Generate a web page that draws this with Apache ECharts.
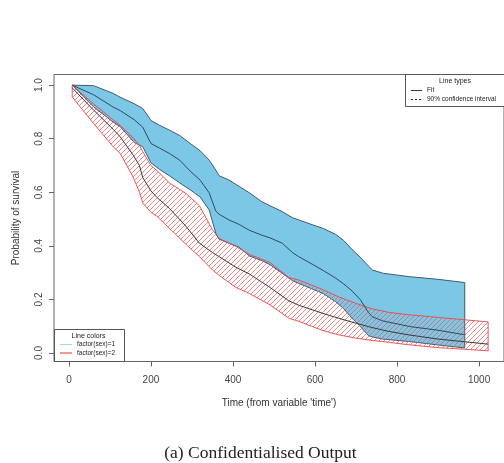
<!DOCTYPE html>
<html>
<head>
<meta charset="utf-8">
<script src="https://cdn.jsdelivr.net/npm/echarts@6/dist/echarts.min.js"></script>
</head>
<body style="margin:0;background:#fff">
<div id="main" style="width:504px;height:463px"></div>
<script>
// ticks
var xTicks = [0, 200, 400, 600, 800, 1000];
var yTicks = [0, 0.2, 0.4, 0.6, 0.8, 1.0];

// factor(sex)=1
var time1  = [8, 60, 108, 125, 160, 180, 200, 221, 245, 270, 295, 320, 342, 358, 366, 390, 415, 440, 470, 490, 520, 545, 560, 595, 620, 650, 670, 690, 710, 730, 740, 765, 830, 900, 965];
var upper1 = [1.0, 0.998, 0.969, 0.955, 0.93, 0.913, 0.868, 0.85, 0.832, 0.812, 0.783, 0.755, 0.72, 0.683, 0.662, 0.646, 0.622, 0.598, 0.565, 0.55, 0.528, 0.505, 0.497, 0.478, 0.465, 0.443, 0.42, 0.387, 0.358, 0.325, 0.31, 0.298, 0.285, 0.275, 0.263];
var fit1   = [1.0, 0.964, 0.918, 0.905, 0.87, 0.843, 0.782, 0.765, 0.745, 0.72, 0.68, 0.645, 0.598, 0.53, 0.518, 0.497, 0.48, 0.458, 0.44, 0.43, 0.41, 0.375, 0.36, 0.33, 0.308, 0.28, 0.258, 0.232, 0.2, 0.152, 0.135, 0.12, 0.099, 0.085, 0.068];
var lower1 = [1.0, 0.919, 0.862, 0.845, 0.785, 0.77, 0.71, 0.685, 0.662, 0.635, 0.61, 0.582, 0.534, 0.447, 0.425, 0.41, 0.395, 0.362, 0.345, 0.33, 0.298, 0.27, 0.26, 0.238, 0.222, 0.192, 0.165, 0.13, 0.1, 0.065, 0.06, 0.052, 0.043, 0.03, 0.019];

// factor(sex)=2
var time2  = [8, 60, 108, 125, 156, 172, 180, 200, 215, 245, 286, 318, 350, 366, 407, 440, 490, 536, 561, 617, 657, 698, 739, 779, 827, 900, 965, 1022];
var upper2 = [1.0, 0.93, 0.87, 0.85, 0.805, 0.775, 0.752, 0.7, 0.68, 0.635, 0.595, 0.55, 0.46, 0.428, 0.398, 0.368, 0.338, 0.282, 0.272, 0.238, 0.21, 0.186, 0.165, 0.152, 0.143, 0.133, 0.124, 0.116];
var fit2   = [0.99, 0.907, 0.835, 0.807, 0.74, 0.7, 0.655, 0.605, 0.58, 0.54, 0.472, 0.41, 0.375, 0.36, 0.32, 0.295, 0.245, 0.195, 0.178, 0.149, 0.13, 0.112, 0.095, 0.081, 0.068, 0.052, 0.042, 0.033];
var lower2 = [0.956, 0.857, 0.77, 0.745, 0.658, 0.6, 0.56, 0.525, 0.51, 0.465, 0.405, 0.36, 0.31, 0.29, 0.245, 0.222, 0.18, 0.13, 0.118, 0.085, 0.068, 0.056, 0.047, 0.04, 0.031, 0.02, 0.014, 0.008];

var FONT = '"Liberation Sans", Arial, sans-serif';

// red hatch pattern
var hatch = document.createElement('canvas');
hatch.width = 5; hatch.height = 5;
var hc = hatch.getContext('2d');
hc.strokeStyle = 'rgba(238,80,80,0.75)';
hc.lineWidth = 0.9;
hc.beginPath();
hc.moveTo(-1, 6); hc.lineTo(6, -1);
hc.moveTo(-1, 1); hc.lineTo(1, -1);
hc.moveTo(4, 6); hc.lineTo(6, 4);
hc.stroke();

function zip(t, v) {
  var out = [];
  for (var i = 0; i < t.length; i++) out.push([t[i], v[i]]);
  return out;
}

function band(times, lo, hi, style) {
  return {
    type: 'custom',
    silent: true,
    data: [[times[0], hi[0]]],
    renderItem: function (params, api) {
      var pts = [];
      for (var i = 0; i < times.length; i++) pts.push(api.coord([times[i], hi[i]]));
      for (var j = times.length - 1; j >= 0; j--) pts.push(api.coord([times[j], lo[j]]));
      return { type: 'polygon', shape: { points: pts }, style: style };
    }
  };
}

function fitLine(times, vals, color) {
  return {
    type: 'line',
    data: zip(times, vals),
    symbol: 'none',
    silent: true,
    lineStyle: { color: color, width: 1 }
  };
}

var chart = echarts.init(document.getElementById('main'));
var option = {
  animation: false,
  backgroundColor: '#fff',
  grid: {
    left: 54, top: 74.5, width: 452, height: 287,
    show: true, borderColor: '#666', borderWidth: 1, backgroundColor: 'transparent'
  },
  xAxis: {
    type: 'value', min: -36.4, max: 1060.7,
    name: "Time (from variable 'time')",
    nameLocation: 'middle', nameGap: 37,
    nameTextStyle: { fontFamily: FONT, fontSize: 10, color: '#333' },
    axisLine: { show: false, onZero: false },
    splitLine: { show: false },
    axisTick: { show: true, length: 5, lineStyle: { color: '#666' }, customValues: xTicks },
    axisLabel: {
      customValues: xTicks, margin: 14, fontFamily: FONT, fontSize: 10, color: '#444',
      formatter: function (v) { return String(v); }
    }
  },
  yAxis: {
    type: 'value', min: -0.0317, max: 1.0397,
    name: 'Probability of survival',
    nameLocation: 'middle', nameGap: 33, nameRotate: 90,
    nameTextStyle: { fontFamily: FONT, fontSize: 10, color: '#333' },
    axisLine: { show: false, onZero: false },
    splitLine: { show: false },
    axisTick: { show: true, length: 5, lineStyle: { color: '#666' }, customValues: yTicks },
    axisLabel: {
      customValues: yTicks, rotate: 90, margin: 10,
      fontFamily: FONT, fontSize: 10, color: '#444',
      formatter: function (v) { return v.toFixed(1); }
    }
  },
  series: [
    band(time1, lower1, upper1, { fill: '#7cc7e5', stroke: '#3d5c72', lineWidth: 1 }),
    fitLine(time1, fit1, '#2e4a60'),
    band(time2, lower2, upper2, { fill: { image: hatch, repeat: 'repeat' }, stroke: '#ee4444', lineWidth: 0.9 }),
    fitLine(time2, fit2, '#3a3a3a')
  ],
  graphic: [
    // Line colors legend
    { type: 'rect', z: 100, shape: { x: 54.5, y: 329.5, width: 70, height: 32 },
      style: { fill: '#fff', stroke: '#555', lineWidth: 1 } },
    { type: 'text', z: 101, x: 88.5, y: 336, style: { text: 'Line colors', font: '7px ' + FONT, fill: '#222', align: 'center', verticalAlign: 'middle' } },
    { type: 'line', z: 101, shape: { x1: 60, y1: 344.5, x2: 72, y2: 344.5 }, style: { stroke: '#a8d8ef', lineWidth: 1 } },
    { type: 'text', z: 101, x: 77, y: 344.5, style: { text: 'factor(sex)=1', font: '6.5px ' + FONT, fill: '#222', verticalAlign: 'middle' } },
    { type: 'line', z: 101, shape: { x1: 60, y1: 353, x2: 72, y2: 353 }, style: { stroke: '#ee3333', lineWidth: 1 } },
    { type: 'text', z: 101, x: 77, y: 353, style: { text: 'factor(sex)=2', font: '6.5px ' + FONT, fill: '#222', verticalAlign: 'middle' } },
    // Line types legend
    { type: 'rect', z: 100, shape: { x: 405.5, y: 74.5, width: 110, height: 32 },
      style: { fill: '#fff', stroke: '#555', lineWidth: 1 } },
    { type: 'text', z: 101, x: 455, y: 81, style: { text: 'Line types', font: '7px ' + FONT, fill: '#222', align: 'center', verticalAlign: 'middle' } },
    { type: 'line', z: 101, shape: { x1: 411, y1: 90.5, x2: 422, y2: 90.5 }, style: { stroke: '#333', lineWidth: 1 } },
    { type: 'text', z: 101, x: 427, y: 90.5, style: { text: 'Fit', font: '6.5px ' + FONT, fill: '#222', verticalAlign: 'middle' } },
    { type: 'line', z: 101, shape: { x1: 411, y1: 99.5, x2: 422, y2: 99.5 }, style: { stroke: '#333', lineWidth: 1, lineDash: [2, 2] } },
    { type: 'text', z: 101, x: 427, y: 99.5, style: { text: '90% confidence interval', font: '6.5px ' + FONT, fill: '#222', verticalAlign: 'middle' } },
    // caption
    { type: 'text', x: 260.5, y: 453, style: { text: '(a) Confidentialised Output', font: '17.5px "Liberation Serif", "Times New Roman", serif', fill: '#222', align: 'center', verticalAlign: 'middle' } }
  ]
};
chart.setOption(option);
</script>
</body>
</html>
